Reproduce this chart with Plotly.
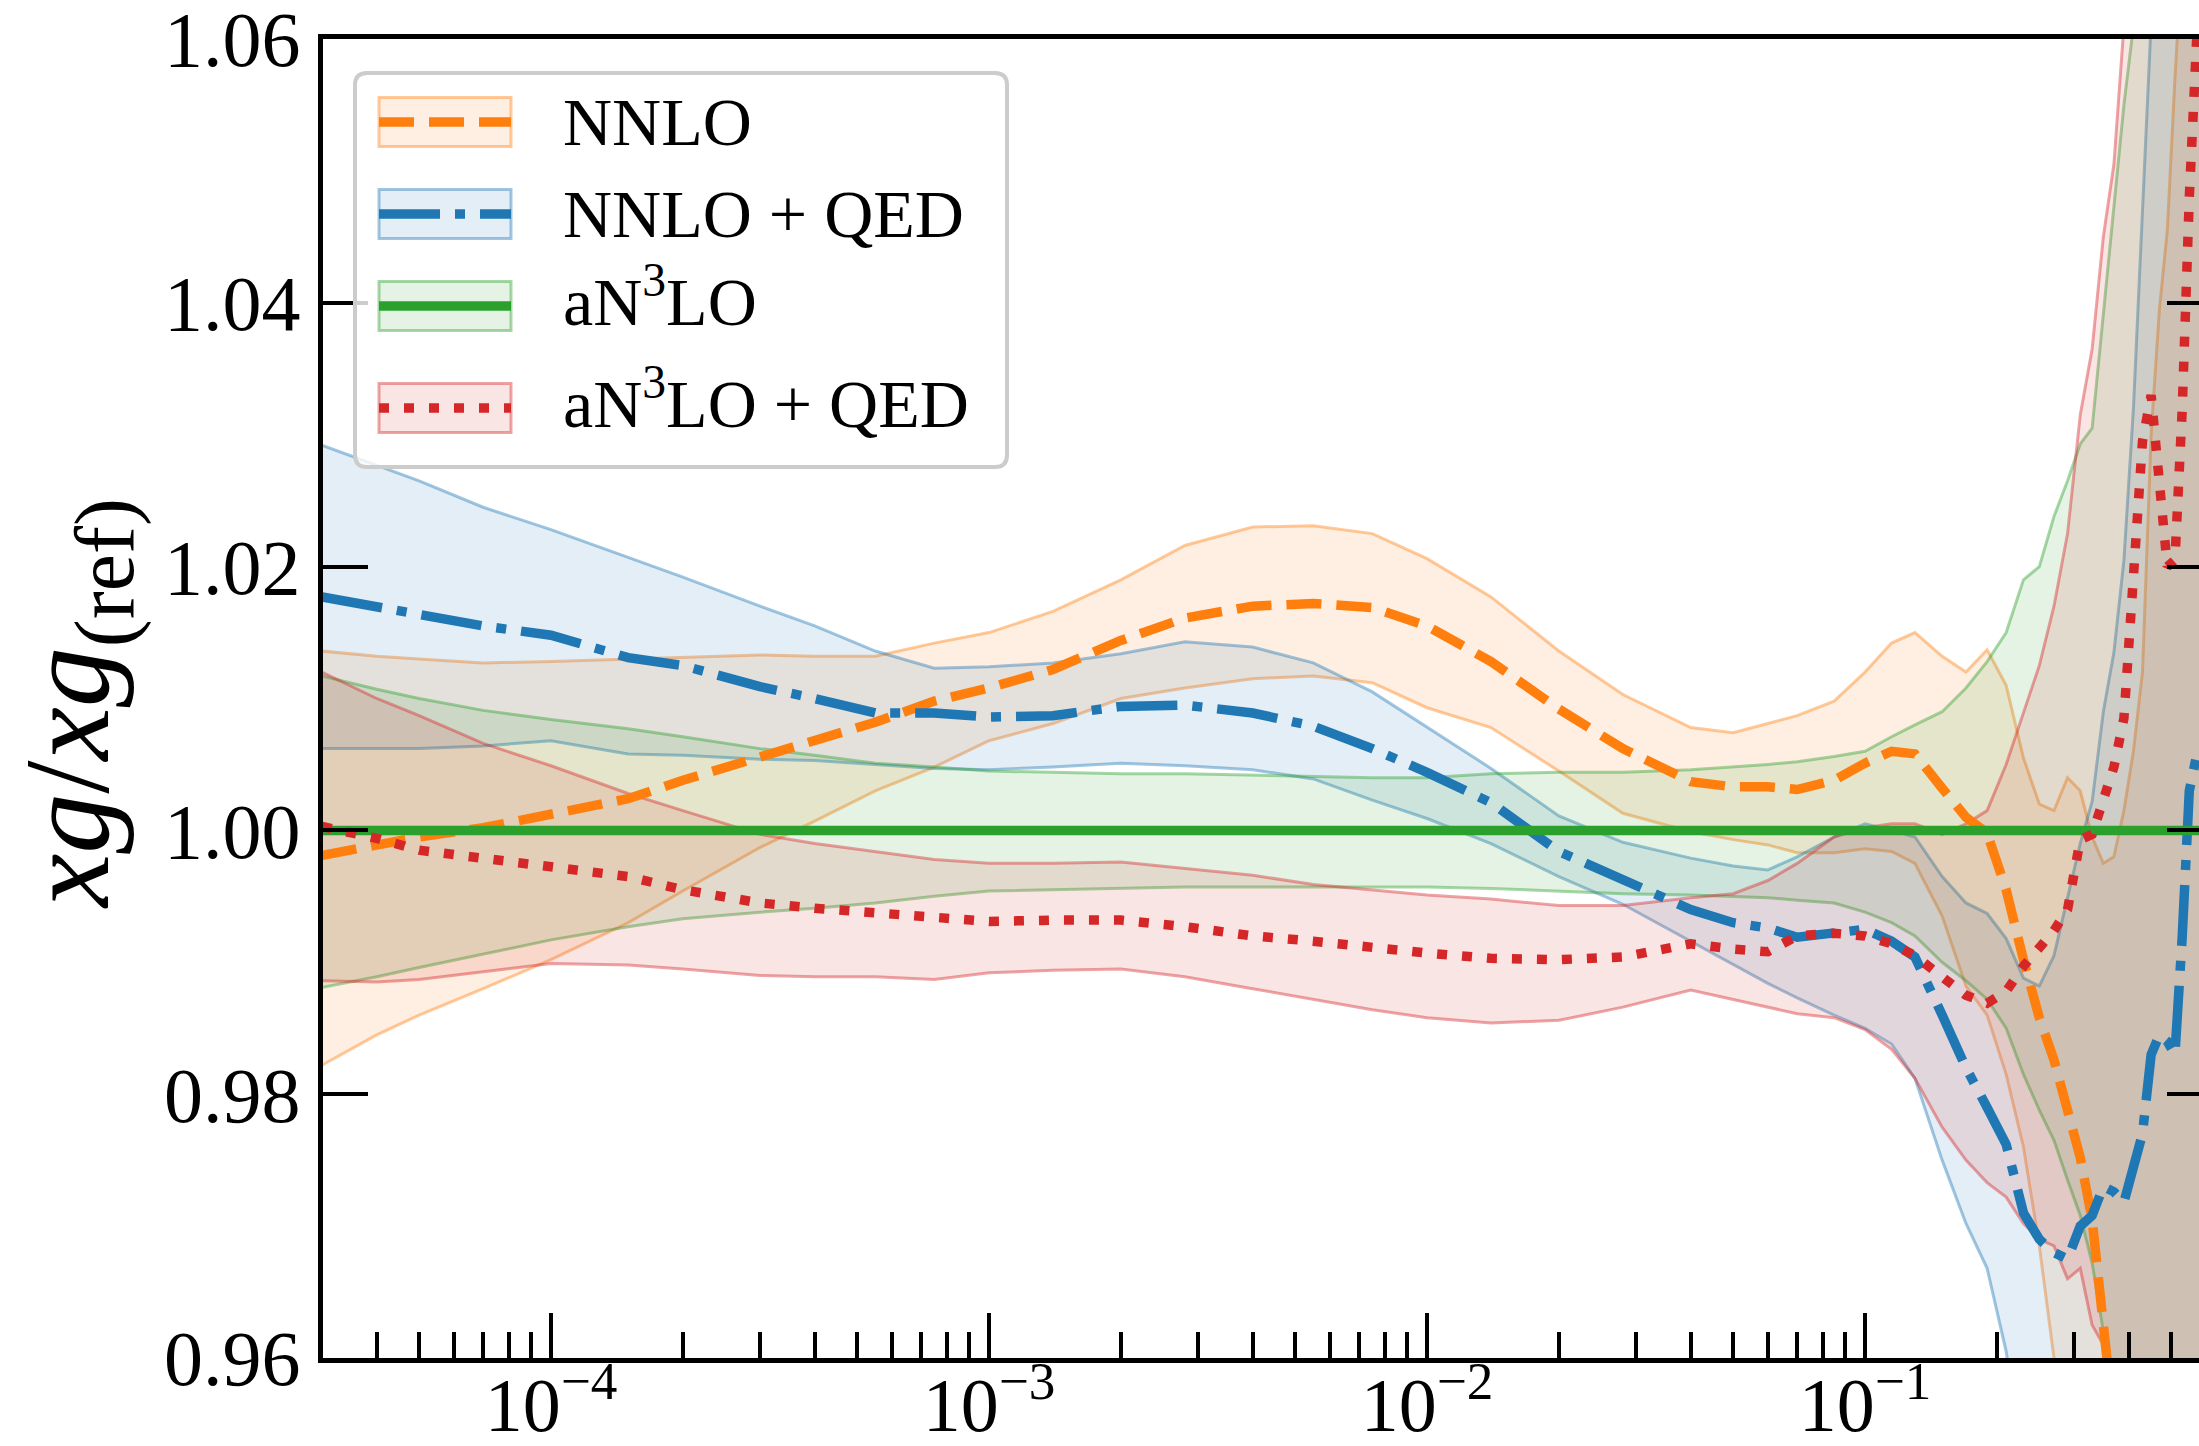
import plotly.graph_objects as go

# ---------------- data ----------------
x_vals = [3.0e-5, 4.0e-5, 5.0e-5, 7.0e-5, 1.0e-4, 1.5e-4, 2.0e-4, 3.0e-4, 4.0e-4, 5.5e-4,
          7.5e-4, 1.0e-3, 1.4e-3, 2.0e-3, 2.8e-3, 4.0e-3, 5.5e-3, 7.5e-3, 1.0e-2, 1.4e-2,
          2.0e-2, 2.8e-2, 4.0e-2, 5.0e-2, 6.0e-2, 7.0e-2, 8.5e-2, 0.10, 0.115, 0.13,
          0.15, 0.17, 0.19, 0.21, 0.23, 0.25, 0.27, 0.29, 0.31, 0.33,
          0.35, 0.37, 0.39, 0.41, 0.43, 0.45, 0.47, 0.49, 0.51, 0.53,
          0.55, 0.57, 0.60, 0.65]

nnlo = [0.9981, 0.9989, 0.9995, 1.0002, 1.0012, 1.0024, 1.0038, 1.0056, 1.0068, 1.0082,
        1.0098, 1.0108, 1.0122, 1.0144, 1.0161, 1.0170, 1.0172, 1.0169, 1.0155, 1.0128,
        1.0092, 1.0062, 1.0037, 1.0033, 1.0033, 1.0031, 1.0038, 1.0051, 1.0060, 1.0058,
        1.0032, 1.0010, 0.9998, 0.9955, 0.9902, 0.9858, 0.9826, 0.9785, 0.9752, 0.9705,
        0.9620, 0.9550, 0.9500, 0.9460, 0.9430, 0.9400, 0.9380, 0.9360, 0.9340, 0.9320,
        0.9300, 0.9280, 0.9250, 0.9200]
nnlo_hi = [1.0136, 1.0132, 1.0130, 1.0127, 1.0128, 1.0130, 1.0131, 1.0133, 1.0132, 1.0132,
           1.0142, 1.0150, 1.0166, 1.0190, 1.0216, 1.0230, 1.0231, 1.0225, 1.0206, 1.0177,
           1.0136, 1.0103, 1.0078, 1.0074, 1.0081, 1.0087, 1.0098, 1.0120, 1.0142, 1.0150,
           1.0132, 1.0120, 1.0137, 1.0110, 1.0055, 1.0020, 1.0015, 1.0040, 1.0030, 0.9995,
           0.9975, 0.9980, 1.0015, 1.0060, 1.0120, 1.0300, 1.0395, 1.0455, 1.0570, 1.0660,
           1.0750, 1.0850, 1.1000, 1.1200]
nnlo_lo = [0.9822, 0.9845, 0.9860, 0.9880, 0.9902, 0.9930, 0.9954, 0.9987, 1.0007, 1.0030,
           1.0048, 1.0068, 1.0081, 1.0100, 1.0108, 1.0115, 1.0117, 1.0112, 1.0093, 1.0078,
           1.0045, 1.0013, 0.9999, 0.9993, 0.9989, 0.9983, 0.9983, 0.9986, 0.9984, 0.9975,
           0.9935, 0.9882, 0.9860, 0.9815, 0.9760, 0.9685, 0.9600, 0.9500, 0.9400, 0.9300,
           0.9250, 0.9200, 0.9150, 0.9100, 0.9050, 0.9000, 0.8950, 0.8900, 0.8850, 0.8800,
           0.8750, 0.8700, 0.8600, 0.8500]

nnlo_qed = [1.0177, 1.0170, 1.0163, 1.0155, 1.0148, 1.0131, 1.0125, 1.0109, 1.0100, 1.0089,
            1.0089, 1.0086, 1.0087, 1.0094, 1.0095, 1.0089, 1.0079, 1.0062, 1.0044, 1.0021,
            0.9984, 0.9962, 0.9940, 0.9930, 0.9926, 0.9919, 0.9922, 0.9925, 0.9916, 0.9904,
            0.9860, 0.9820, 0.9790, 0.9762, 0.9710, 0.9690, 0.9680, 0.9675, 0.9700, 0.9708,
            0.9730, 0.9726, 0.9718, 0.9748, 0.9770, 0.9830, 0.9845, 0.9840, 0.9830, 0.9920,
            1.0030, 1.0055, 1.0060, 1.0060]
nnlo_qed_hi = [1.0292, 1.0277, 1.0265, 1.0245, 1.0228, 1.0207, 1.0192, 1.0170, 1.0155, 1.0136,
               1.0123, 1.0124, 1.0127, 1.0134, 1.0143, 1.0139, 1.0127, 1.0105, 1.0078, 1.0047,
               1.0011, 0.9991, 0.9979, 0.9973, 0.9970, 0.9980, 0.9995, 1.0005, 1.0000, 0.9995,
               0.9965, 0.9945, 0.9937, 0.9918, 0.9888, 0.9882, 0.9905, 0.9950, 0.9990, 1.0022,
               1.0090, 1.0135, 1.0205, 1.0320, 1.0480, 1.0620, 1.0750, 1.0850, 1.0950, 1.1050,
               1.1150, 1.1250, 1.1400, 1.1600]
nnlo_qed_lo = [1.0062, 1.0062, 1.0062, 1.0064, 1.0068, 1.0058, 1.0057, 1.0054, 1.0053, 1.0050,
               1.0047, 1.0046, 1.0048, 1.0051, 1.0049, 1.0046, 1.0039, 1.0023, 1.0009, 0.9990,
               0.9965, 0.9944, 0.9916, 0.9898, 0.9884, 0.9873, 0.9860, 0.9850, 0.9838, 0.9812,
               0.9750, 0.9702, 0.9668, 0.9605, 0.9520, 0.9400, 0.9300, 0.9200, 0.9100, 0.9000,
               0.8900, 0.8800, 0.8700, 0.8600, 0.8500, 0.8400, 0.8300, 0.8200, 0.8100, 0.8000,
               0.7900, 0.7800, 0.7700, 0.7600]

an3lo = [1.0] * len(x_vals)
an3lo_hi = [1.0117, 1.0107, 1.0100, 1.0091, 1.0084, 1.0077, 1.0071, 1.0062, 1.0057, 1.0051,
            1.0048, 1.0045, 1.0044, 1.0043, 1.0043, 1.0042, 1.0041, 1.0040, 1.0040, 1.0043,
            1.0044, 1.0044, 1.0046, 1.0048, 1.0050, 1.0052, 1.0056, 1.0060, 1.0071, 1.0080,
            1.0090, 1.0108, 1.0128, 1.0150, 1.0190, 1.0200, 1.0238, 1.0265, 1.0293, 1.0305,
            1.0390, 1.0475, 1.0550, 1.0610, 1.0700, 1.0800, 1.0900, 1.1000, 1.1100, 1.1200,
            1.1300, 1.1400, 1.1500, 1.1700]
an3lo_lo = [0.9881, 0.9889, 0.9896, 0.9906, 0.9917, 0.9927, 0.9933, 0.9938, 0.9941, 0.9945,
            0.9950, 0.9954, 0.9955, 0.9956, 0.9957, 0.9957, 0.9957, 0.9957, 0.9957, 0.9956,
            0.9954, 0.9952, 0.9951, 0.9950, 0.9949, 0.9947, 0.9945, 0.9938, 0.9930, 0.9920,
            0.9900, 0.9886, 0.9872, 0.9850, 0.9815, 0.9788, 0.9765, 0.9735, 0.9708, 0.9672,
            0.9620, 0.9550, 0.9450, 0.9300, 0.9200, 0.9100, 0.9000, 0.8900, 0.8800, 0.8700,
            0.8600, 0.8500, 0.8400, 0.8300]

an3lo_qed = [1.0003, 0.9994, 0.9985, 0.9979, 0.9974, 0.9965, 0.9955, 0.9945, 0.9941, 0.9937,
             0.9933, 0.9931, 0.9932, 0.9932, 0.9927, 0.9920, 0.9916, 0.9911, 0.9907, 0.9903,
             0.9902, 0.9904, 0.9914, 0.9910, 0.9908, 0.9920, 0.9922, 0.9920, 0.9914, 0.9905,
             0.9888, 0.9875, 0.9869, 0.9878, 0.9897, 0.9912, 0.9924, 0.9940, 0.9993, 0.9997,
             1.0025, 1.0048, 1.0085, 1.0205, 1.0295, 1.0330, 1.0255, 1.0200, 1.0205, 1.0320,
             1.0480, 1.0620, 1.0750, 1.0900]
an3lo_qed_hi = [1.0120, 1.0100, 1.0087, 1.0066, 1.0049, 1.0028, 1.0015, 0.9997, 0.9990, 0.9984,
                0.9978, 0.9975, 0.9975, 0.9976, 0.9971, 0.9966, 0.9959, 0.9955, 0.9951, 0.9948,
                0.9943, 0.9943, 0.9949, 0.9952, 0.9962, 0.9975, 0.9995, 1.0002, 1.0005, 1.0005,
                0.9997, 1.0005, 1.0015, 1.0050, 1.0090, 1.0125, 1.0170, 1.0225, 1.0315, 1.0365,
                1.0450, 1.0505, 1.0610, 1.0700, 1.0800, 1.0900, 1.1000, 1.1100, 1.1200, 1.1300,
                1.1400, 1.1500, 1.1600, 1.1800]
an3lo_qed_lo = [0.9886, 0.9885, 0.9887, 0.9893, 0.9899, 0.9898, 0.9895, 0.9890, 0.9889, 0.9889,
                0.9887, 0.9892, 0.9894, 0.9895, 0.9889, 0.9880, 0.9872, 0.9864, 0.9858, 0.9854,
                0.9856, 0.9866, 0.9879, 0.9872, 0.9866, 0.9861, 0.9858, 0.9849, 0.9834, 0.9812,
                0.9775, 0.9750, 0.9733, 0.9722, 0.9702, 0.9690, 0.9685, 0.9660, 0.9668, 0.9625,
                0.9610, 0.9550, 0.9450, 0.9350, 0.9250, 0.9150, 0.9050, 0.8950, 0.8850, 0.8750,
                0.8650, 0.8550, 0.8450, 0.8300]

series_names = ["NNLO", "NNLO + QED", "aN3LO", "aN3LO + QED"]
legend_labels = ["NNLO", "NNLO + QED", "aN<sup>3</sup>LO", "aN<sup>3</sup>LO + QED"]
y_tickvals = [0.96, 0.98, 1.00, 1.02, 1.04, 1.06]
y_ticktext = ["0.96", "0.98", "1.00", "1.02", "1.04", "1.06"]
x_tickvals = [1e-4, 1e-3, 1e-2, 1e-1]
x_ticktext = ["10<sup>\u22124</sup>", "10<sup>\u22123</sup>", "10<sup>\u22122</sup>", "10<sup>\u22121</sup>"]
x_minor = [m * 10.0 ** e for e in (-5, -4, -3, -2, -1) for m in range(2, 10)]

# ---------------- styles ----------------
RGB = {"NNLO": (255, 127, 14), "NNLO + QED": (31, 119, 180),
       "aN3LO": (44, 160, 44), "aN3LO + QED": (214, 39, 40)}
DASH = {"NNLO": "35px,15px", "NNLO + QED": "61px,15px,10px,15px",
        "aN3LO": "solid", "aN3LO + QED": "10px,15px"}
LW = 9.5
FILL_A, EDGE_A = 0.12, 0.42


def rgba(c, a):
    return "rgba(%d,%d,%d,%.3f)" % (c[0], c[1], c[2], a)


FONT = "Liberation Serif"
W, H = 2199, 1446
PL, PR, PT, PB = 323, 2199, 39, 1358

centrals = {"NNLO": nnlo, "NNLO + QED": nnlo_qed, "aN3LO": an3lo, "aN3LO + QED": an3lo_qed}
bands = {"NNLO": (nnlo_lo, nnlo_hi), "NNLO + QED": (nnlo_qed_lo, nnlo_qed_hi),
         "aN3LO": (an3lo_lo, an3lo_hi), "aN3LO + QED": (an3lo_qed_lo, an3lo_qed_hi)}

fig = go.Figure()
for name in series_names:
    lo, hi = bands[name]
    c = RGB[name]
    fig.add_trace(go.Scatter(x=x_vals, y=lo, mode="lines",
                             line=dict(color=rgba(c, EDGE_A), width=3),
                             showlegend=False, hoverinfo="skip"))
    fig.add_trace(go.Scatter(x=x_vals, y=hi, mode="lines", fill="tonexty",
                             fillcolor=rgba(c, FILL_A),
                             line=dict(color=rgba(c, EDGE_A), width=3),
                             showlegend=False, hoverinfo="skip"))
for name in series_names:
    c = RGB[name]
    fig.add_trace(go.Scatter(x=x_vals, y=centrals[name], mode="lines", name=name,
                             line=dict(color=rgba(c, 1), width=LW, dash=DASH[name]),
                             showlegend=False))
# invisible anchor trace so the mirrored right-hand tick axis is drawn
fig.add_trace(go.Scatter(x=[x_vals[11]], y=[an3lo[11]], yaxis="y2", mode="markers",
                         marker=dict(opacity=0), showlegend=False, hoverinfo="skip"))

# ---------------- legend (drawn as layout decoration) ----------------
def px2x(p):
    return (p - PL) / (PR - PL)


def py2y(p):
    return (PB - p) / (PB - PT)


shapes = []
bx0, bx1, by0, by1, rad = 355, 1007, 73, 467, 12
X0, X1, Y0, Y1 = px2x(bx0), px2x(bx1), py2y(by1), py2y(by0)
rx, ry = rad / (PR - PL), rad / (PB - PT)
path = (f"M {X0+rx},{Y1} L {X1-rx},{Y1} Q {X1},{Y1} {X1},{Y1-ry} L {X1},{Y0+ry} "
        f"Q {X1},{Y0} {X1-rx},{Y0} L {X0+rx},{Y0} Q {X0},{Y0} {X0},{Y0+ry} "
        f"L {X0},{Y1-ry} Q {X0},{Y1} {X0+rx},{Y1} Z")
shapes.append(dict(type="path", path=path, xref="paper", yref="paper",
                   fillcolor="rgba(255,255,255,0.8)", line=dict(color="#cccccc", width=4),
                   layer="above"))
row_centers = [122, 214, 306, 408]
text_shift = [0, 0, -9, -9]   # compensates the taller box of texts with a superscript
patch_x0, patch_x1, patch_h = 379, 511, 49
annotations = []
for name, label, yc, sh in zip(series_names, legend_labels, row_centers, text_shift):
    c = RGB[name]
    shapes.append(dict(type="rect", xref="paper", yref="paper",
                       x0=px2x(patch_x0), x1=px2x(patch_x1),
                       y0=py2y(yc + patch_h / 2), y1=py2y(yc - patch_h / 2),
                       fillcolor=rgba(c, FILL_A), line=dict(color=rgba(c, EDGE_A), width=3),
                       layer="above"))
    shapes.append(dict(type="line", xref="paper", yref="paper",
                       x0=px2x(patch_x0), x1=px2x(patch_x1), y0=py2y(yc), y1=py2y(yc),
                       line=dict(color=rgba(c, 1), width=LW, dash=DASH[name]), layer="above"))
    annotations.append(dict(text=label, xref="paper", yref="paper", x=px2x(561),
                            y=py2y(yc + sh), xanchor="left", yanchor="middle", showarrow=False,
                            font=dict(family=FONT, size=68, color="black")))

annotations.append(dict(text="<i>xg</i>/<i>xg</i><sub>(ref)</sub>", xref="paper", yref="paper",
                        x=px2x(76), y=py2y(704), xanchor="center", yanchor="middle",
                        textangle=-90, showarrow=False,
                        font=dict(family=FONT, size=120, color="black")))

axis_common = dict(showgrid=False, zeroline=False, tickcolor="black", tickwidth=4,
                   automargin=False, ticklabeloverflow="allow")
fig.update_layout(
    width=W, height=H, autosize=False,
    margin=dict(l=PL, r=W - PR, t=PT, b=H - PB, pad=0, autoexpand=False),
    paper_bgcolor="white", plot_bgcolor="white",
    font=dict(family=FONT, size=76, color="black"),
    xaxis=dict(type="log", range=[-4.5205, -0.2375], tickvals=x_tickvals, ticktext=x_ticktext,
               ticks="inside", ticklen=45, showline=True, linewidth=5, linecolor="black",
               mirror=True, tickfont=dict(family=FONT, size=76), ticklabelstandoff=-23,
               minor=dict(tickvals=x_minor, ticks="inside", ticklen=26, tickwidth=4,
                          tickcolor="black", showgrid=False),
               **axis_common),
    yaxis=dict(range=[0.96, 1.06], tickvals=y_tickvals, ticktext=y_ticktext,
               ticks="inside", ticklen=45, showline=True, linewidth=5, linecolor="black",
               tickfont=dict(family=FONT, size=78), ticklabelstandoff=2,
               **axis_common),
    yaxis2=dict(range=[0.96, 1.06], overlaying="y", side="right", tickvals=y_tickvals,
                showticklabels=False, ticks="inside", ticklen=32, showline=False,
                **axis_common),
    shapes=shapes, annotations=annotations, showlegend=False,
)

fig.write_html("out.html", post_script="document.body.style.margin='0';")
